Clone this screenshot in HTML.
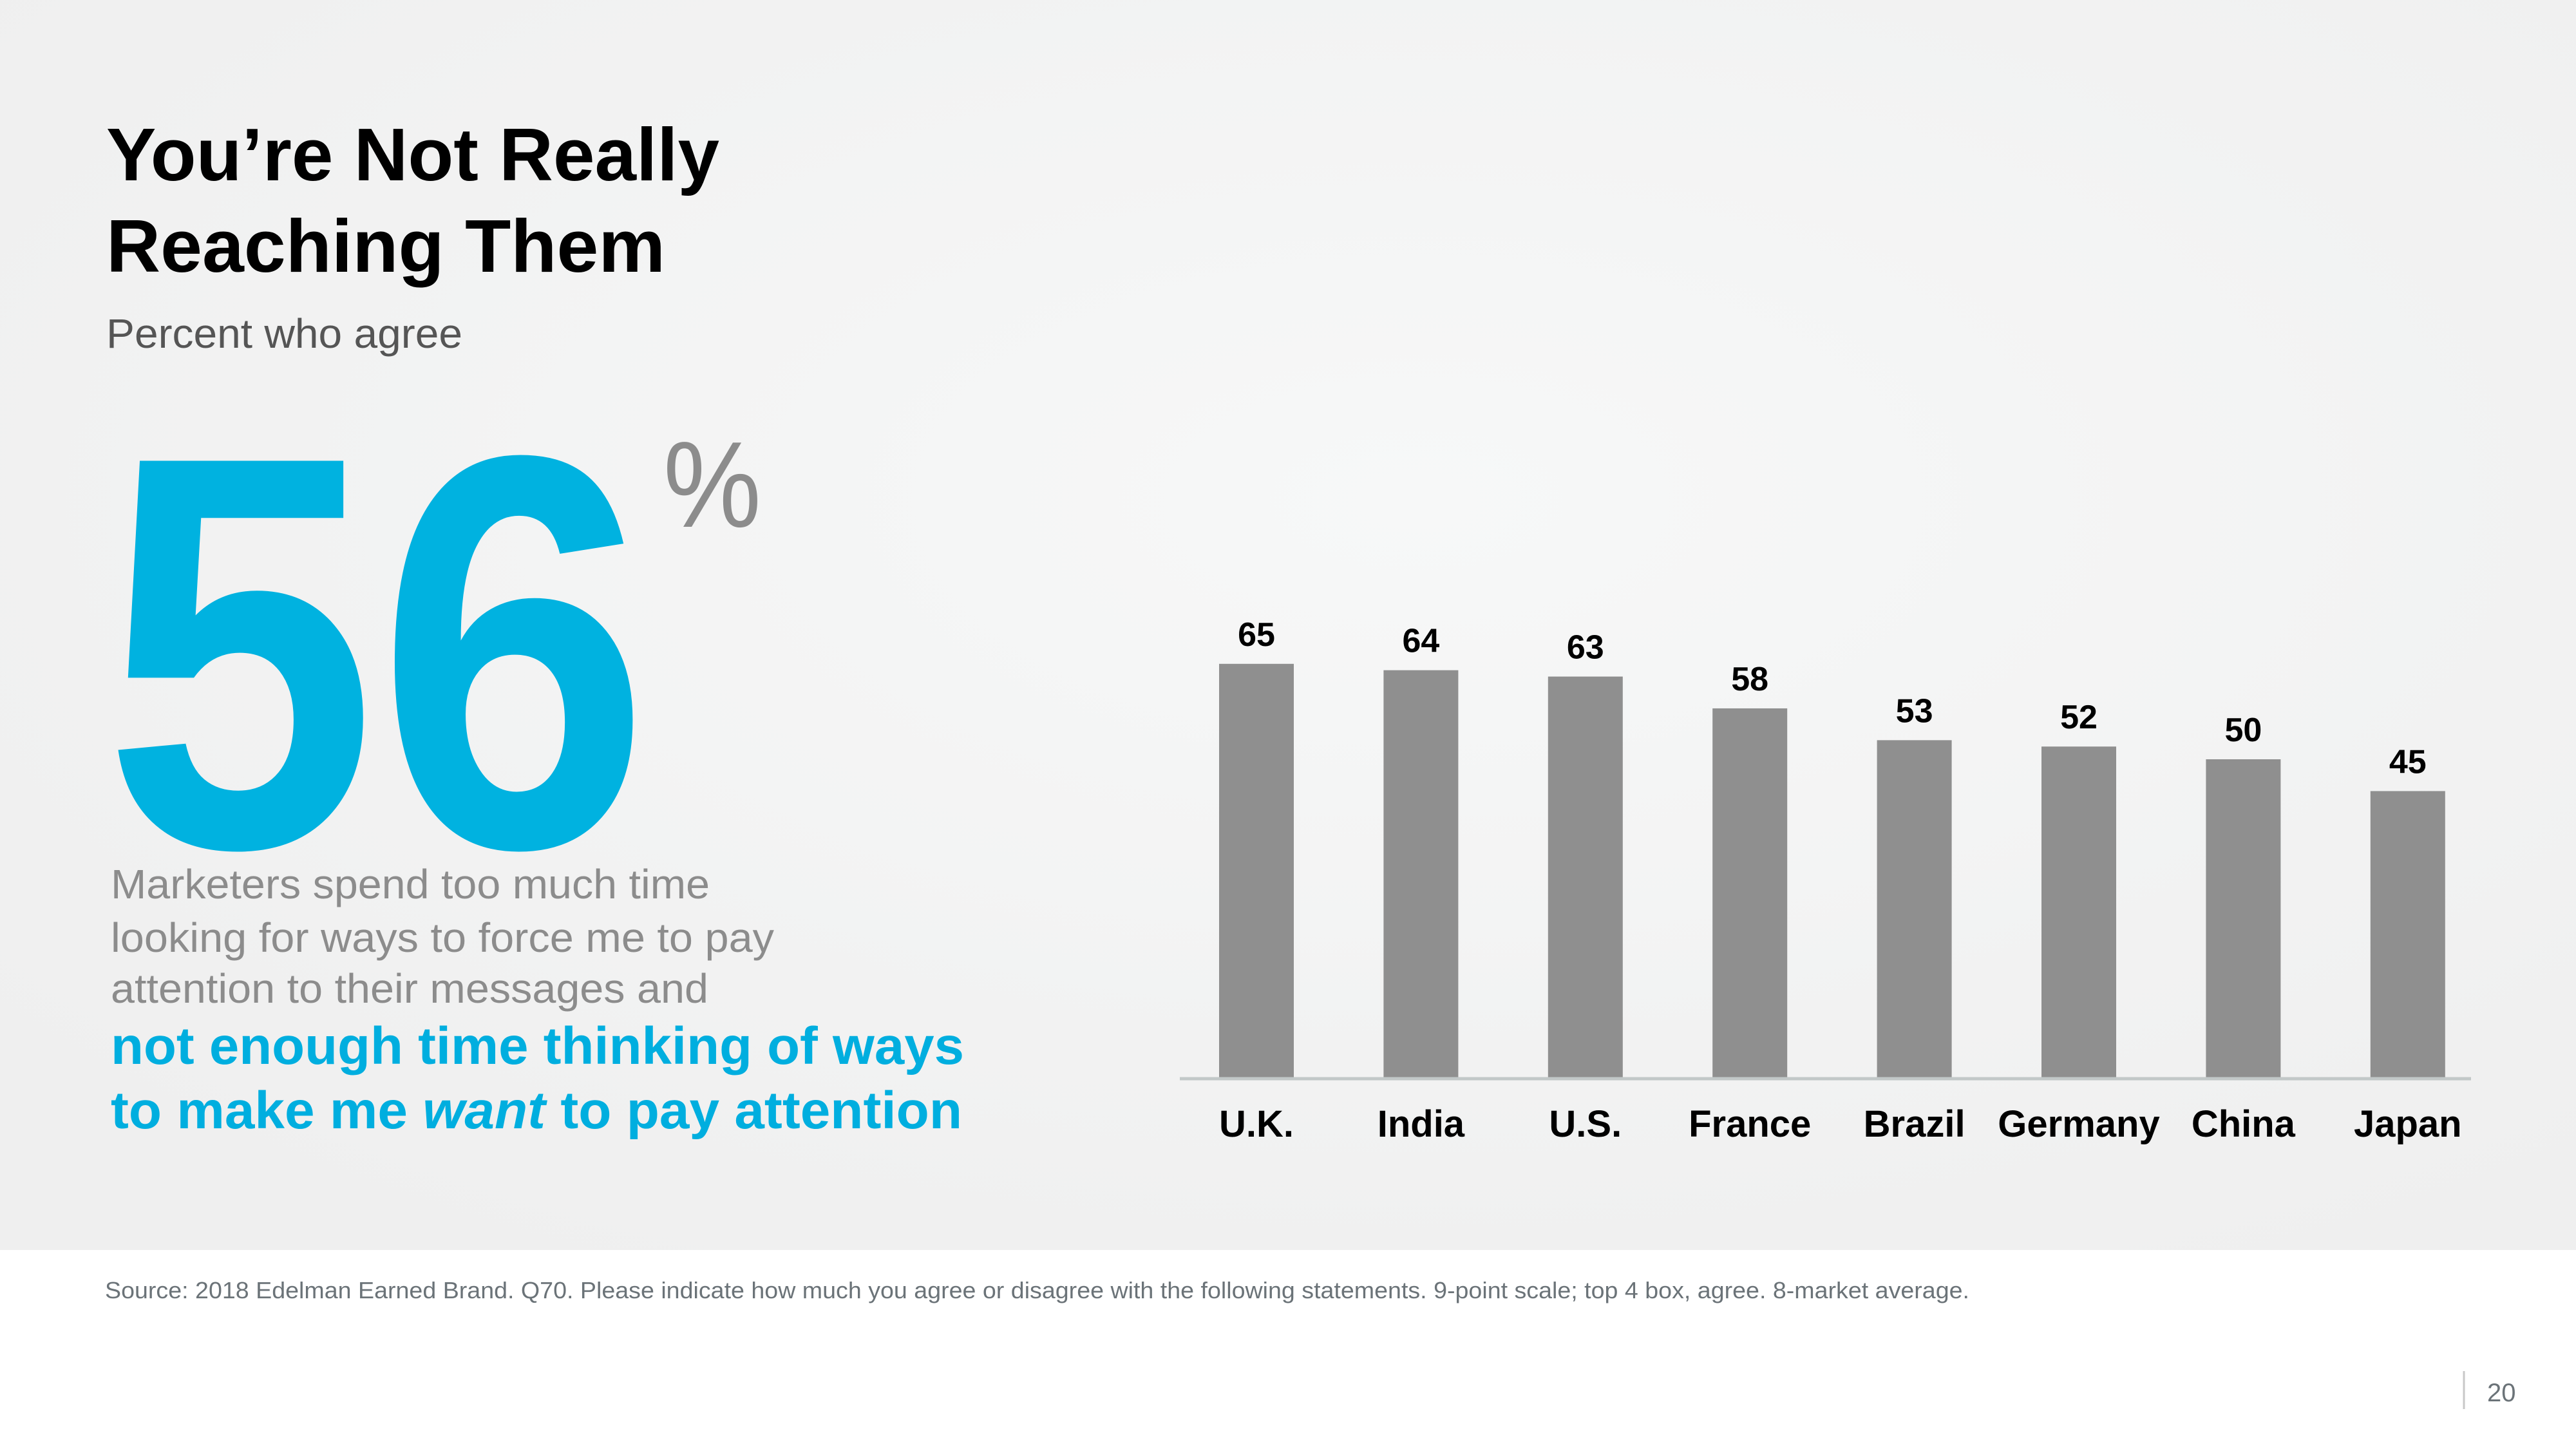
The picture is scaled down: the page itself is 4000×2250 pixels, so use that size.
<!DOCTYPE html>
<html><head><meta charset="utf-8">
<style>
html,body{margin:0;padding:0;background:#fff;}
svg{display:block;}
text{font-family:"Liberation Sans",Arial,sans-serif;}
</style></head>
<body>
<svg id="slide" width="4000" height="2250" viewBox="0 0 4000 2250" xmlns="http://www.w3.org/2000/svg">
<defs>
<radialGradient id="bg" cx="0.55" cy="0.4" r="0.7">
<stop offset="0" stop-color="#f7f8f8"/>
<stop offset="1" stop-color="#efefef"/>
</radialGradient>
</defs>
<rect x="0" y="0" width="4000" height="1941" fill="url(#bg)"/>
<rect x="0" y="1941" width="4000" height="309" fill="#ffffff"/>

<text font-weight="bold" font-size="116" fill="#000">
<tspan x="165" y="280" textLength="952" lengthAdjust="spacingAndGlyphs">You’re Not Really</tspan>
<tspan x="165" y="422" textLength="868" lengthAdjust="spacingAndGlyphs">Reaching Them</tspan>
</text>
<text x="165" y="540" font-size="64" fill="#555" textLength="553" lengthAdjust="spacingAndGlyphs">Percent who agree</text>

<text x="160" y="1314" font-weight="bold" font-size="870" fill="#00b2e0" textLength="850" lengthAdjust="spacingAndGlyphs">56</text>
<text x="1030" y="818" font-size="190" fill="#8c8c8c" textLength="152" lengthAdjust="spacingAndGlyphs">%</text>

<text font-size="64" fill="#8c8c8c">
<tspan x="172" y="1395" textLength="930" lengthAdjust="spacingAndGlyphs">Marketers spend too much time</tspan>
<tspan x="172" y="1478" textLength="1030" lengthAdjust="spacingAndGlyphs">looking for ways to force me to pay</tspan>
<tspan x="172" y="1557" textLength="928" lengthAdjust="spacingAndGlyphs">attention to their messages and</tspan>
</text>
<text font-size="82" font-weight="bold" fill="#00aedf">
<tspan x="172" y="1652" textLength="1325" lengthAdjust="spacingAndGlyphs">not enough time thinking of ways</tspan>
<tspan x="172" y="1752" textLength="1322" lengthAdjust="spacingAndGlyphs">to make me <tspan font-style="italic">want</tspan> to pay attention</tspan>
</text>

<g id="chart"></g>

<text x="163" y="2016" font-size="36" fill="#6b7378" textLength="2895" lengthAdjust="spacingAndGlyphs">Source: 2018 Edelman Earned Brand. Q70. Please indicate how much you agree or disagree with the following statements. 9-point scale; top 4 box, agree. 8-market average.</text>
<line x1="3826" y1="2129" x2="3826" y2="2188" stroke="#c8c8c8" stroke-width="3"/>
<text x="3862" y="2176" font-size="40" fill="#6b7378">20</text>
</svg>
<script>
const categories = ["U.K.","India","U.S.","France","Brazil","Germany","China","Japan"];
const values = [65,64,63,58,53,52,50,45];

const NS = "http://www.w3.org/2000/svg";
const g = document.getElementById('chart');
const baseY = 1673, pxPerUnit = 9.88;
const firstCenter = 1951, step = 255.4, barW = 116;
function xCenter(i){ return firstCenter + i*step; }
function yScale(v){ return baseY - v*pxPerUnit; }

categories.forEach((c,i)=>{
  const r = document.createElementNS(NS,'rect');
  
  
  r.setAttribute('x', xCenter(i)-barW/2);
  r.setAttribute('y', yScale(values[i]));
  r.setAttribute('width', barW);
  r.setAttribute('height', baseY - yScale(values[i]));
  r.setAttribute('fill', '#8f8f8f');
  g.appendChild(r);

  const t = document.createElementNS(NS,'text');
  
  
  t.setAttribute('x', xCenter(i));
  t.setAttribute('y', yScale(values[i]) - 28);
  t.setAttribute('text-anchor', 'middle');
  t.setAttribute('font-size', '52');
  t.setAttribute('font-weight', 'bold');
  t.setAttribute('fill', '#000');
  t.textContent = values[i];
  g.appendChild(t);

  const l = document.createElementNS(NS,'text');
  
  
  l.setAttribute('x', xCenter(i));
  l.setAttribute('y', 1765);
  l.setAttribute('text-anchor', 'middle');
  l.setAttribute('font-size', '58');
  l.setAttribute('font-weight', 'bold');
  l.setAttribute('fill', '#000');
  l.textContent = c;
  g.appendChild(l);
});
const axis = document.createElementNS(NS,'line');


axis.setAttribute('x1', 1832); axis.setAttribute('x2', 3837);
axis.setAttribute('y1', baseY+2); axis.setAttribute('y2', baseY+2);
axis.setAttribute('stroke', '#c2c8c8'); axis.setAttribute('stroke-width', '5');
g.appendChild(axis);
</script>
</body></html>
